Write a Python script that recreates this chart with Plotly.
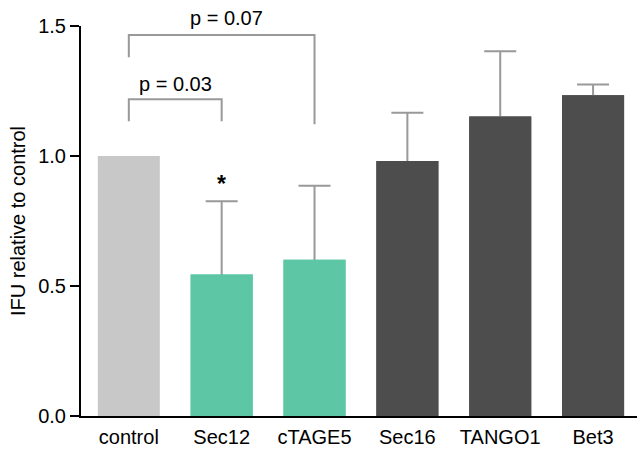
import plotly.graph_objects as go

categories = ["control", "Sec12", "cTAGE5", "Sec16", "TANGO1", "Bet3"]
values = [1.0, 0.544, 0.601, 0.981, 1.152, 1.234]
errors = [None, 0.282, 0.285, 0.185, 0.251, 0.041]
bar_colors = ["#c8c8c8", "#5dc6a5", "#5dc6a5", "#4d4d4d", "#4d4d4d", "#4d4d4d"]

# significance brackets: (left idx, right idx, top y, left leg bottom, right leg bottom, label, label y)
brackets = [
    (0, 1, 1.218, 1.134, 1.134, "p = 0.03", 1.276),
    (0, 2, 1.465, 1.380, 1.122, "p = 0.07", 1.530),
]
star_category = "Sec12"
star_y = 0.893
ytick_vals = [0.0, 0.5, 1.0, 1.5]
y_max = 1.5

FONT = "Liberation Sans, Arial, sans-serif"
GRAY = "#999999"
FS = 20

fig = go.Figure()
xs = list(range(len(categories)))

# error bars only where an error exists (lower half hidden by the overlaid bars)
err_idx = [i for i, e in enumerate(errors) if e is not None]
fig.add_trace(go.Bar(
    x=[xs[i] for i in err_idx], y=[values[i] for i in err_idx],
    marker=dict(color=[bar_colors[i] for i in err_idx], line=dict(width=0)),
    width=0.668,
    error_y=dict(type="data", array=[errors[i] for i in err_idx], symmetric=True,
                 color=GRAY, thickness=2, width=16),
    showlegend=False, hoverinfo="skip",
))
fig.add_trace(go.Bar(
    x=xs, y=values, marker=dict(color=bar_colors, line=dict(width=0)),
    width=0.668, showlegend=False,
))

for (i1, i2, ytop, yl, yr, label, ylab) in brackets:
    fig.add_trace(go.Scatter(
        x=[i1, i1, i2, i2], y=[yl, ytop, ytop, yr], mode="lines",
        line=dict(color=GRAY, width=2), showlegend=False, hoverinfo="skip",
        cliponaxis=False,
    ))
    fig.add_annotation(x=(i1 + i2) / 2 + (0.05 if i2 - i1 > 1 else 0), y=ylab / y_max, yref="paper",
                       text=label, showarrow=False,
                       font=dict(family=FONT, size=FS, color="#000000"),
                       xanchor="center", yanchor="middle")

fig.add_annotation(x=categories.index(star_category), y=star_y, text="<b>*</b>", showarrow=False,
                   font=dict(family=FONT, size=23, color="#000000"), xanchor="center", yanchor="middle")

fig.update_layout(
    width=637, height=449,
    margin=dict(l=81, r=0, t=26, b=33, autoexpand=False),
    paper_bgcolor="white", plot_bgcolor="white",
    barmode="overlay",
    font=dict(family=FONT, size=FS, color="#000000"),
)
fig.update_xaxes(
    type="linear", range=[-0.515, 5.473], tickmode="array",
    tickvals=xs, ticktext=categories,
    showline=True, linecolor="#000000", linewidth=2, ticks="", showgrid=False, zeroline=False,
    tickfont=dict(family=FONT, size=FS, color="#000000"), ticklabelstandoff=2,
)
fig.update_yaxes(
    range=[0, y_max], tickmode="array", tickvals=ytick_vals,
    ticktext=[f"{v:.1f}" for v in ytick_vals],
    showline=True, linecolor="#000000", linewidth=2, ticks="outside", ticklen=9, tickwidth=2,
    tickcolor="#000000", showgrid=False, zeroline=False,
    tickfont=dict(family=FONT, size=FS, color="#000000"),
    title=dict(text="IFU relative to control", font=dict(family=FONT, size=FS, color="#000000"), standoff=7),
)

fig.write_html("out.html", config={"displayModeBar": False},
               post_script="document.body.style.margin='0';")
